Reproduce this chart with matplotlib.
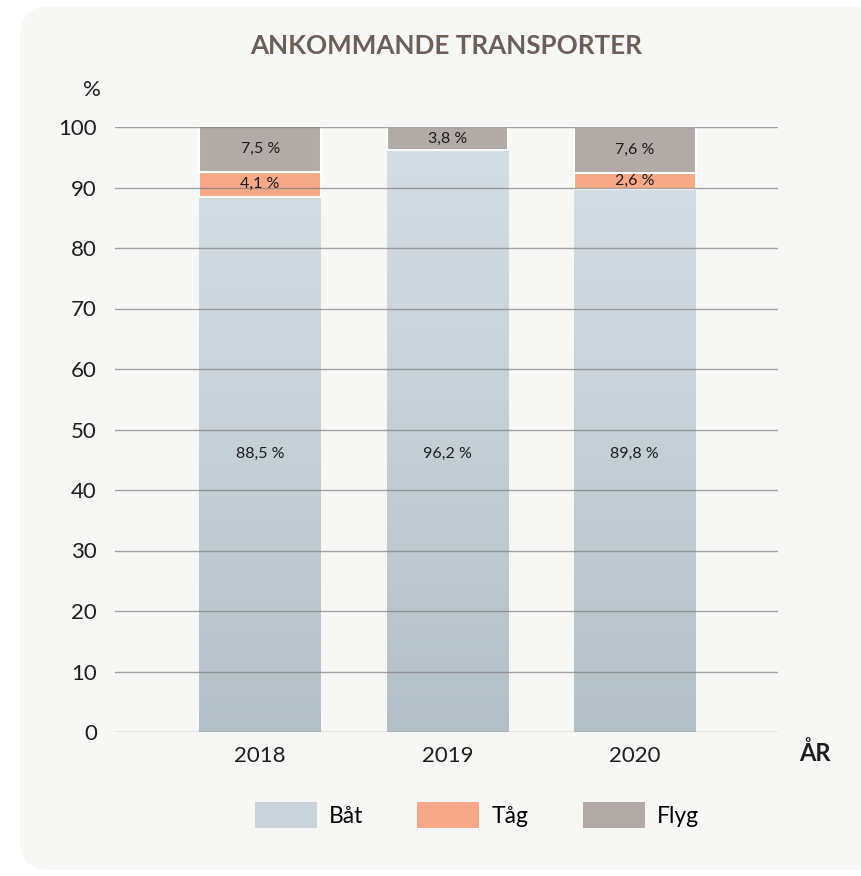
import numpy as np
import matplotlib.pyplot as plt
from matplotlib.patches import FancyBboxPatch, Patch
from matplotlib.colors import LinearSegmentedColormap

# Data
years = ['2018', '2019', '2020']
bat = [88.5, 96.2, 89.8]
tag = [4.1, 0.0, 2.6]
flyg = [7.5, 3.8, 7.6]
series_names = ['Båt', 'Tåg', 'Flyg']

c_bat = '#c9d3d9'
c_tag = '#f7a987'
c_flyg = '#b2aaa6'
txt = '#1e1e1e'

plt.rcParams['font.family'] = ['Lato', 'DejaVu Sans']

fig = plt.figure(figsize=(8.61, 8.76), dpi=100)
fig.patch.set_facecolor('white')

# light panel behind the chart
panel = FancyBboxPatch((20 / 861, 6 / 876), 900 / 861, 864 / 876,
                       boxstyle='round,pad=0,rounding_size=0.035',
                       transform=fig.transFigure, facecolor='#f7f7f6',
                       edgecolor='none', zorder=-5)
fig.patches.append(panel)

ax = fig.add_axes([115 / 861, 1 - 732 / 876, 663 / 861, 605 / 876])
ax.set_facecolor('none')
ax.set_zorder(2)

x = np.arange(len(years))
w = 0.65

# Båt bars with a vertical gradient
grad = np.linspace(0, 1, 256).reshape(-1, 1)
cmap = LinearSegmentedColormap.from_list('g', ['#b4c0c7', '#d4dde3'])
bars_bat = ax.bar(x, bat, w, color=c_bat, edgecolor='none', zorder=2)
for b in bars_bat:
    x0, y0 = b.get_x(), b.get_y()
    im = ax.imshow(grad, extent=[x0, x0 + b.get_width(), y0, y0 + b.get_height()],
                   origin='lower', cmap=cmap, aspect='auto', zorder=2.1,
                   vmin=0, vmax=1)
    im.set_clip_path(b)

bottom2 = np.array(bat)
bars_tag = ax.bar(x, tag, w, bottom=bottom2, color=c_tag, edgecolor='white',
                  linewidth=1.5, zorder=2.2)
bottom3 = bottom2 + np.array(tag)
bars_flyg = ax.bar(x, flyg, w, bottom=bottom3, color=c_flyg, edgecolor='white',
                   linewidth=1.5, zorder=2.2)

def fmt(v):
    return f'{v:.1f}'.replace('.', ',') + ' %'

lab = dict(ha='center', va='center', fontsize=11.5, color=txt, zorder=5)
for i in range(len(years)):
    ax.text(x[i], 46, fmt(bat[i]), **lab)
    if tag[i] > 0:
        ax.text(x[i], bottom2[i] + tag[i] / 2, fmt(tag[i]), **lab)
    ax.text(x[i], bottom3[i] + flyg[i] / 2, fmt(flyg[i]), **lab)

ax.set_ylim(0, 100)
ax.set_xlim(-0.775, 2.765)
ax.set_yticks(range(0, 101, 10))
ax.set_xticks(x)
ax.set_xticklabels(years)
ax.tick_params(axis='both', length=0, labelsize=16, colors=txt)
ax.tick_params(axis='y', pad=13)
ax.tick_params(axis='x', pad=10)
for s in ax.spines.values():
    s.set_visible(False)
ax.yaxis.grid(True, color='#7f7f7f', linewidth=1, alpha=0.7, zorder=3)
ax.set_axisbelow(False)
ax.xaxis.grid(False)

fig.text(446 / 861, 1 - 46 / 876, 'ANKOMMANDE TRANSPORTER', ha='center',
         va='center', fontsize=18.7, fontweight='bold', color='#6b5f59')
fig.text(101 / 861, 1 - 90 / 876, '%', ha='right', va='center', fontsize=16,
         color=txt)
fig.text(831 / 861, 1 - 753 / 876, 'ÅR', ha='right', va='center', fontsize=17,
         fontweight='bold', color=txt)

handles = [Patch(facecolor=c, edgecolor='none') for c in (c_bat, c_tag, c_flyg)]
fig.legend(handles, series_names, loc='center', bbox_to_anchor=(477 / 861, 1 - 815 / 876),
           ncol=3, frameon=False, fontsize=16.5, handlelength=2.7, handleheight=1.4,
           handletextpad=0.55, columnspacing=2.35)

fig.savefig('out.png', dpi=100)
